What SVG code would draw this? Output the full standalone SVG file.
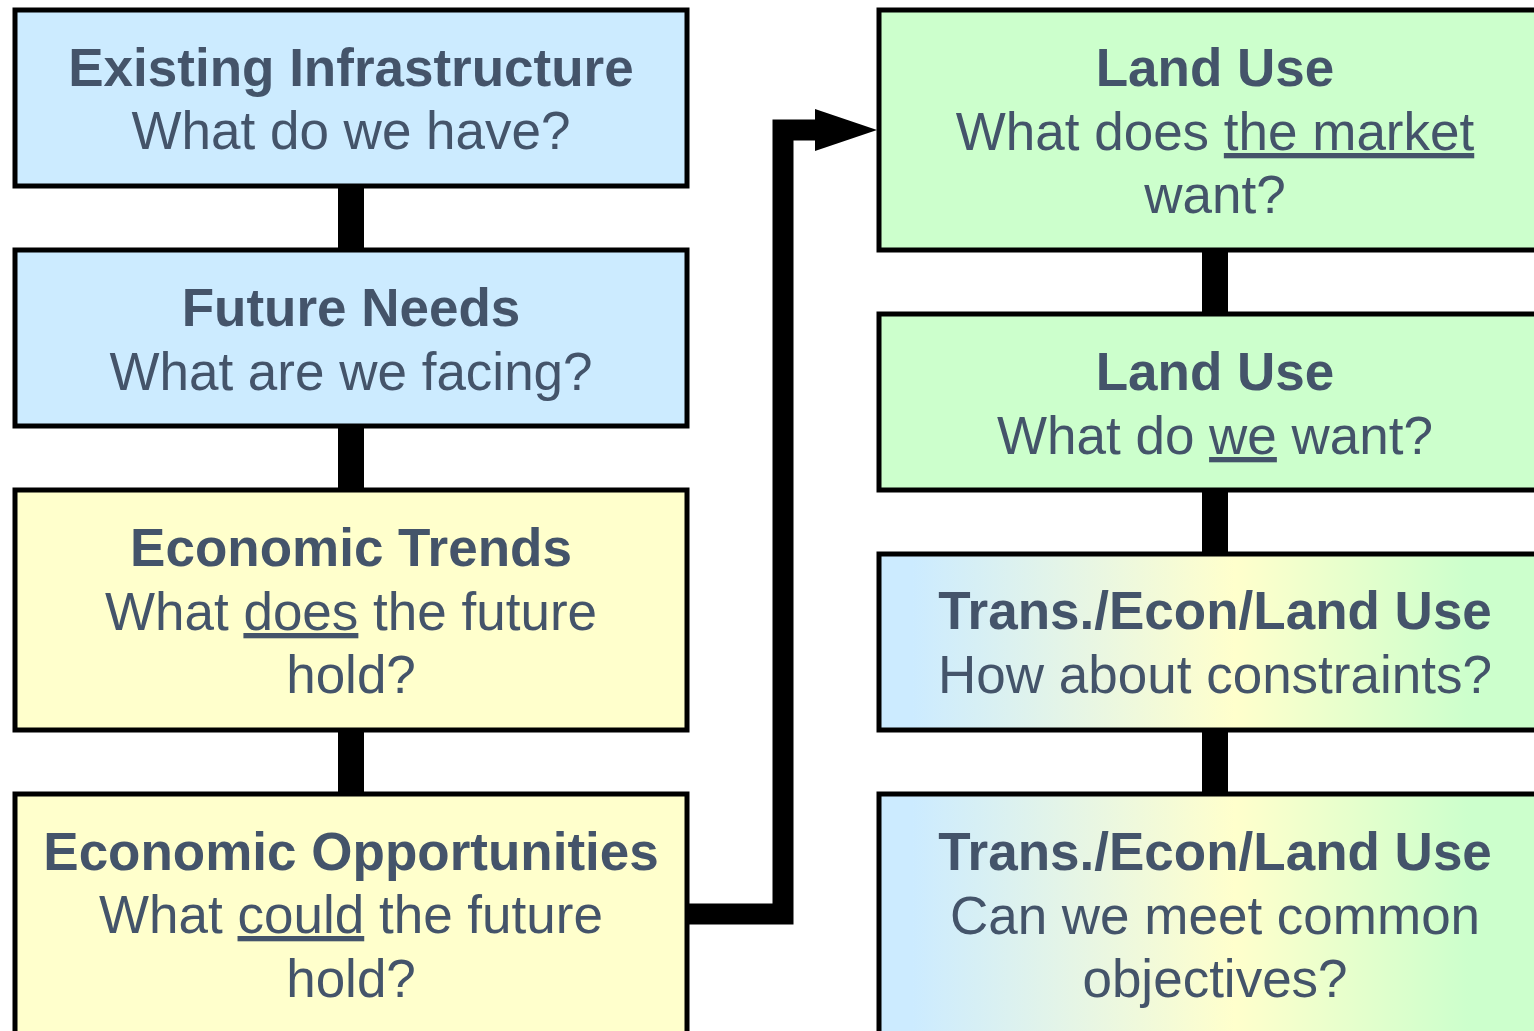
<svg xmlns="http://www.w3.org/2000/svg" width="1534" height="1031" viewBox="0 0 1534 1031">
<style>
.box{stroke:#000;stroke-width:5}
.blue{fill:#CCEBFF}
.yellow{fill:#FFFFCC}
.green{fill:#CCFFCC}
.grad{fill:url(#g)}
text{font-family:"Liberation Sans",Arial,sans-serif;font-size:53px;fill:#44546A;text-anchor:middle}
.t{font-weight:bold}
.link{stroke:#000;stroke-width:26;fill:none}
.u{text-decoration:underline}
</style>
<defs>
<linearGradient id="g" x1="879" y1="0" x2="1551" y2="0" gradientUnits="userSpaceOnUse">
<stop offset="0.05" stop-color="#CCEBFF"/>
<stop offset="0.53" stop-color="#FFFFCC"/>
<stop offset="0.88" stop-color="#CCFFCC"/>
</linearGradient>
</defs>
<g id="connectors">
<line class="link" x1="351" y1="186" x2="351" y2="250"/>
<line class="link" x1="351" y1="426" x2="351" y2="490"/>
<line class="link" x1="351" y1="730" x2="351" y2="794"/>
<line class="link" x1="1215" y1="250" x2="1215" y2="314"/>
<line class="link" x1="1215" y1="490" x2="1215" y2="554"/>
<line class="link" x1="1215" y1="730" x2="1215" y2="794"/>
<path d="M687 914 H783 V130 H818" fill="none" stroke="#000" stroke-width="21" stroke-linejoin="miter"/>
<polygon points="815,109 877,130 815,151" fill="#000"/>
</g>
<g id="existing-infrastructure">
<rect class="box blue" x="15" y="10" width="672" height="176"/>
<text class="t" x="351" y="86">Existing Infrastructure</text>
<text x="351" y="149">What do we have?</text>
</g>
<g id="future-needs">
<rect class="box blue" x="15" y="250" width="672" height="176"/>
<text class="t" x="351" y="326">Future Needs</text>
<text x="351" y="390">What are we facing?</text>
</g>
<g id="economic-trends">
<rect class="box yellow" x="15" y="490" width="672" height="240"/>
<text class="t" x="351" y="566">Economic Trends</text>
<text x="351" y="630">What <tspan class="u">does</tspan> the future</text>
<text x="351" y="693">hold?</text>
</g>
<g id="economic-opportunities">
<rect class="box yellow" x="15" y="794" width="672" height="240"/>
<text class="t" x="351" y="870">Economic Opportunities</text>
<text x="351" y="933">What <tspan class="u">could</tspan> the future</text>
<text x="351" y="997">hold?</text>
</g>
<g id="land-use-market">
<rect class="box green" x="879" y="10" width="672" height="240"/>
<text class="t" x="1215" y="86">Land Use</text>
<text x="1215" y="150">What does <tspan class="u">the market</tspan></text>
<text x="1215" y="213">want?</text>
</g>
<g id="land-use-we">
<rect class="box green" x="879" y="314" width="672" height="176"/>
<text class="t" x="1215" y="390">Land Use</text>
<text x="1215" y="454">What do <tspan class="u">we</tspan> want?</text>
</g>
<g id="constraints">
<rect class="box grad" x="879" y="554" width="672" height="176"/>
<text class="t" x="1215" y="629">Trans./Econ/Land Use</text>
<text x="1215" y="693">How about constraints?</text>
</g>
<g id="common-objectives">
<rect class="box grad" x="879" y="794" width="672" height="240"/>
<text class="t" x="1215" y="870">Trans./Econ/Land Use</text>
<text x="1215" y="934">Can we meet common</text>
<text x="1215" y="997">objectives?</text>
</g>
</svg>
